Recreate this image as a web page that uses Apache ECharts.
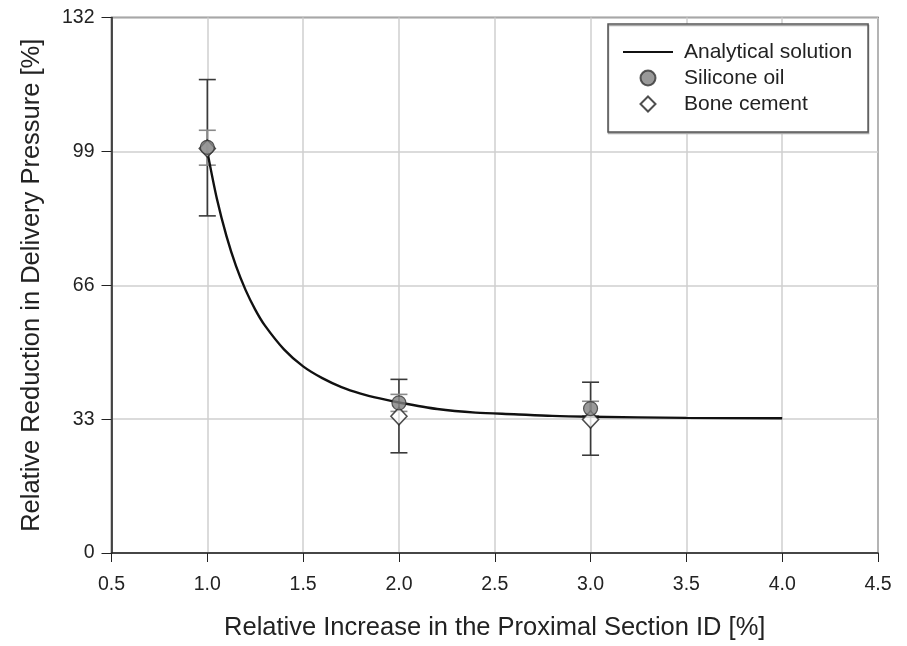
<!DOCTYPE html>
<html>
<head>
<meta charset="utf-8">
<script src="https://cdn.jsdelivr.net/npm/echarts@6/dist/echarts.min.js"></script>
<style>
  html, body { margin: 0; padding: 0; background: #fff; }
  #chart { width: 907px; height: 646px; }
</style>
</head>
<body>
<div id="chart"></div>
<script>
// analytical curve
const curveX = [1.0, 1.05, 1.1, 1.15, 1.2, 1.25, 1.3, 1.4, 1.5, 1.6, 1.7, 1.8, 1.9, 2.0, 2.2, 2.4, 2.6, 2.8, 3.0, 3.5, 4.0];
const curveY = [99, 87.3, 78.1, 70.7, 64.8, 60.0, 56.1, 50.2, 46.0, 43.1, 40.9, 39.3, 38.1, 37.1, 35.5, 34.6, 34.2, 33.8, 33.6, 33.3, 33.2];

// measured points
const pointX = [1.0, 2.0, 3.0];
const siliconeY = [100.0, 37.0, 35.6];
const siliconeLo = [95.6, 34.9, 33.8];
const siliconeHi = [104.2, 39.1, 37.4];
const cementY = [99.7, 33.7, 32.9];
const cementLo = [83.1, 24.7, 24.1];
const cementHi = [116.7, 42.8, 42.1];

const font = '"Liberation Sans", Arial, sans-serif';

const errorBars = (lo, hi, color) => ({
    type: 'custom',
    silent: true,
    z: 3,
    data: pointX.map((x, i) => [x, lo[i], hi[i]]),
    renderItem: (params, api) => {
        const top = api.coord([api.value(0), api.value(2)]);
        const bot = api.coord([api.value(0), api.value(1)]);
        const w = 8.5;
        const style = { stroke: color, lineWidth: 1.6 };
        return {
            type: 'group',
            children: [
                { type: 'line', shape: { x1: top[0], y1: top[1], x2: bot[0], y2: bot[1] }, style },
                { type: 'line', shape: { x1: top[0] - w, y1: top[1], x2: top[0] + w, y2: top[1] }, style },
                { type: 'line', shape: { x1: bot[0] - w, y1: bot[1], x2: bot[0] + w, y2: bot[1] }, style },
            ],
        };
    },
});

const chart = echarts.init(document.getElementById('chart'));
chart.setOption({
    backgroundColor: '#fff',
    animation: false,
    textStyle: { fontFamily: font },
    grid: { left: 111.5, right: 29, top: 17.5, bottom: 93, show: true, borderColor: '#333', borderWidth: 1.5 },
    legend: {
        left: 608,
        top: 24,
        orient: 'vertical',
        padding: [17, 16, 17, 15],
        itemWidth: 50,
        itemHeight: 15,
        itemGap: 4,
        borderColor: '#555',
        borderWidth: 1.5,
        backgroundColor: '#fff',
        shadowColor: '#aaa',
        shadowOffsetY: 1.5,
        shadowOffsetX: 0.5,
        textStyle: { fontFamily: font, fontSize: 21, color: '#222', lineHeight: 22, padding: [0, 0, 0, 6] },
        data: [
            { name: 'Analytical solution', icon: 'path://M0,0L50,0L50,2.2L0,2.2Z' },
            { name: 'Silicone oil', icon: 'circle' },
            { name: 'Bone cement', icon: 'path://M7.5,0L15,7.5L7.5,15L0,7.5Z' },
        ],
    },
    xAxis: {
        type: 'value',
        min: 0.5,
        max: 4.5,
        interval: 0.5,
        name: 'Relative Increase in the Proximal Section ID [%]',
        nameLocation: 'middle',
        nameGap: 62,
        nameTextStyle: { fontFamily: font, fontSize: 25.5, color: '#222' },
        axisLine: { onZero: false, lineStyle: { color: '#222', width: 1.5 } },
        axisTick: { length: 9, lineStyle: { color: '#222' } },
        axisLabel: { fontFamily: font, fontSize: 19.5, color: '#222', margin: 22, formatter: v => v.toFixed(1) },
        splitLine: { show: true, lineStyle: { color: '#cfcfcf', width: 1.5 } },
    },
    yAxis: {
        type: 'value',
        min: 0,
        max: 132,
        interval: 33,
        name: 'Relative Reduction in Delivery Pressure [%]',
        nameLocation: 'middle',
        nameGap: 67,
        nameTextStyle: { fontFamily: font, fontSize: 25.5, color: '#222' },
        axisLine: { show: true, lineStyle: { color: '#222', width: 1.5 } },
        axisTick: { show: true, length: 10, lineStyle: { color: '#222' } },
        axisLabel: { fontFamily: font, fontSize: 19.5, color: '#222', margin: 17 },
        splitLine: { show: true, lineStyle: { color: '#cfcfcf', width: 1.5 } },
    },
    series: [
        errorBars(cementLo, cementHi, '#3a3a3a'),
        errorBars(siliconeLo, siliconeHi, '#8a8a8a'),
        {
            name: 'Analytical solution',
            type: 'line',
            smooth: 0.3,
            symbol: 'none',
            z: 4,
            lineStyle: { color: '#111', width: 2.4 },
            itemStyle: { color: '#111' },
            data: curveX.map((x, i) => [x, curveY[i]]),
        },
        {
            name: 'Bone cement',
            type: 'scatter',
            symbol: 'diamond',
            symbolSize: [16, 17],
            z: 5,
            itemStyle: { color: '#fff', borderColor: '#222', borderWidth: 1.6 },
            data: pointX.map((x, i) => [x, cementY[i]]),
        },
        {
            name: 'Silicone oil',
            type: 'scatter',
            symbol: 'circle',
            symbolSize: 14,
            z: 6,
            itemStyle: { color: '#7f7f7f', borderColor: '#333', borderWidth: 1.2 },
            data: pointX.map((x, i) => [x, siliconeY[i]]),
        },
    ],
});
</script>
</body>
</html>
